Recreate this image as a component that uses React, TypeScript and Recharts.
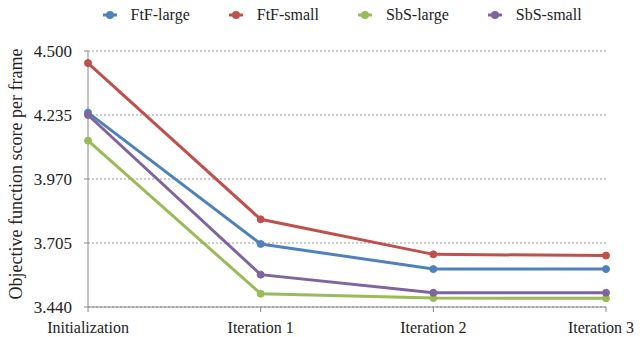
import React from 'react';
import {
  LineChart,
  Line,
  XAxis,
  YAxis,
  CartesianGrid,
  Legend,
} from 'recharts';

const stages = ['Initialization', 'Iteration 1', 'Iteration 2', 'Iteration 3'];
const ftfLarge = [4.245, 3.701, 3.597, 3.597];
const ftfSmall = [4.45, 3.803, 3.658, 3.653];
const sbsLarge = [4.129, 3.495, 3.477, 3.476];
const sbsSmall = [4.235, 3.574, 3.499, 3.499];
const yTicks = [3.44, 3.705, 3.97, 4.235, 4.5];

const series = [
  { key: 'ftfLarge', name: 'FtF-large', color: '#4F81BD', values: ftfLarge },
  { key: 'ftfSmall', name: 'FtF-small', color: '#C0504D', values: ftfSmall },
  { key: 'sbsLarge', name: 'SbS-large', color: '#9BBB59', values: sbsLarge },
  { key: 'sbsSmall', name: 'SbS-small', color: '#8064A2', values: sbsSmall },
];

const data = stages.map((stage, i) => {
  const row: Record<string, string | number> = { stage };
  series.forEach(s => {
    row[s.key] = s.values[i];
  });
  return row;
});

const font = 'Liberation Serif';

const LegendRow = () => (
  <div
    style={{
      display: 'flex',
      justifyContent: 'flex-start',
      paddingLeft: 75,
      fontFamily: font,
      fontSize: 16,
      color: '#222',
    }}
  >
    {series.map(s => (
      <div key={s.key} style={{ display: 'flex', alignItems: 'center', margin: '0 19.5px' }}>
        <svg width={14} height={10} style={{ marginRight: 14 }}>
          <line x1={0} y1={5} x2={14} y2={5} stroke={s.color} strokeWidth={3} />
          <circle cx={7} cy={5} r={4} fill={s.color} />
        </svg>
        <span>{s.name}</span>
      </div>
    ))}
  </div>
);

// last category label is nudged left so it stays inside the frame, like the original
const StageTick = (props: any) => {
  const { x, y, payload, index } = props;
  const shift = index === stages.length - 1 ? -5 : 0;
  return (
    <text
      x={x + shift}
      y={y + 19}
      textAnchor="middle"
      style={{ fontFamily: font, fontSize: 16 }}
      fill="#222"
    >
      {payload.value}
    </text>
  );
};

const ValueTick = (props: any) => {
  const { x, y, payload } = props;
  return (
    <text
      x={x}
      y={y + 6}
      textAnchor="end"
      style={{ fontFamily: font, fontSize: 17 }}
      fill="#222"
    >
      {Number(payload.value).toFixed(3)}
    </text>
  );
};

const App: React.FC = () => {
  return (
    <div style={{ width: 642, height: 337, background: '#fff' }}>
      <style>{'body{margin:0}'}</style>
      <LineChart
        width={642}
        height={337}
        data={data}
        margin={{ top: 6, right: 36, left: 8, bottom: 0 }}
      >
        <Legend verticalAlign="top" height={45} content={() => <LegendRow />} />
        <CartesianGrid vertical={false} stroke="#999" strokeDasharray="2 2" />
        <XAxis
          dataKey="stage"
          axisLine={{ stroke: '#888' }}
          tickLine={{ stroke: '#888' }}
          tickSize={5}
          height={30}
          interval={0}
          tick={<StageTick />}
        />
        <YAxis
          domain={[3.44, 4.5]}
          ticks={yTicks}
          width={80}
          axisLine={{ stroke: '#888' }}
          tickLine={{ stroke: '#888' }}
          tickSize={4}
          tickMargin={12}
          tick={<ValueTick />}
          label={{
            value: 'Objective function score per frame',
            angle: -90,
            position: 'insideLeft',
            offset: 8,
            dy: -5,
            style: { fontFamily: font, fontSize: 18, fill: '#222', textAnchor: 'middle' },
          }}
        />
        {series.map(s => (
          <Line
            key={s.key}
            type="linear"
            dataKey={s.key}
            name={s.name}
            stroke={s.color}
            strokeWidth={3}
            dot={{ r: 3.5, fill: s.color, stroke: s.color, strokeWidth: 1 }}
            isAnimationActive={false}
          />
        ))}
      </LineChart>
    </div>
  );
};

export default App;
